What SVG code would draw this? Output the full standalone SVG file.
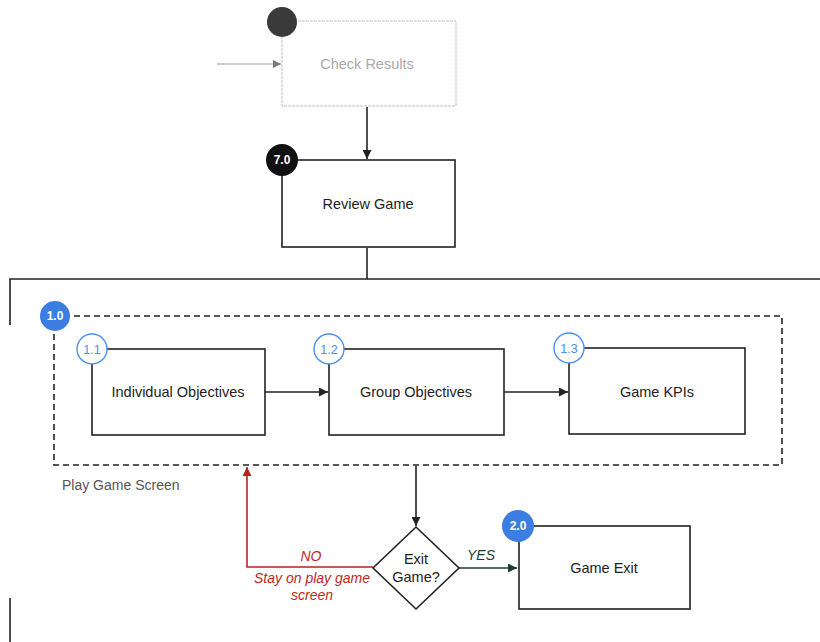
<svg xmlns="http://www.w3.org/2000/svg" width="820" height="642" viewBox="0 0 820 642">
  <style>
    .box { fill: #fff; stroke: #222; stroke-width: 1.6; }
    .lbl { font-family: "Liberation Sans", Arial, sans-serif; font-size: 14.5px; fill: #222; text-anchor: middle; }
    .badge-txt { font-family: "Liberation Sans", Arial, sans-serif; font-size: 12px; font-weight: bold; fill: #fff; text-anchor: middle; }
    .sub-txt { font-family: "Liberation Sans", Arial, sans-serif; font-size: 12.5px; fill: #4a8ef0; text-anchor: middle; }
    .wire { fill: none; stroke: #222; stroke-width: 1.6; }
    .note { font-family: "Liberation Sans", Arial, sans-serif; font-size: 14px; font-style: italic; text-anchor: middle; }
  </style>
  <defs>
    <marker id="arrow" viewBox="0 0 10 10" refX="10" refY="5" markerWidth="9" markerHeight="9" markerUnits="userSpaceOnUse" orient="auto">
      <path d="M0,0 L10,5 L0,10 z" fill="#222"/>
    </marker>
    <marker id="arrowGray" viewBox="0 0 10 10" refX="10" refY="5" markerWidth="8" markerHeight="8" markerUnits="userSpaceOnUse" orient="auto">
      <path d="M0,0 L10,5 L0,10 z" fill="#777"/>
    </marker>
    <marker id="arrowRed" viewBox="0 0 10 10" refX="10" refY="5" markerWidth="9" markerHeight="9" markerUnits="userSpaceOnUse" orient="auto">
      <path d="M0,0 L10,5 L0,10 z" fill="#b3261e"/>
    </marker>
    <marker id="arrowGreen" viewBox="0 0 10 10" refX="10" refY="5" markerWidth="9" markerHeight="9" markerUnits="userSpaceOnUse" orient="auto">
      <path d="M0,0 L10,5 L0,10 z" fill="#1f3d2b"/>
    </marker>
  </defs>

  <rect width="820" height="642" fill="#fff"/>

  <!-- connectors -->
  <g id="connectors">
    <line x1="217" y1="64" x2="281" y2="64" stroke="#999" stroke-width="1" marker-end="url(#arrowGray)"/>
    <line class="wire" x1="367" y1="107" x2="367" y2="159" marker-end="url(#arrow)"/>
    <polyline class="wire" points="367,248 367,279"/>
    <polyline class="wire" points="10,325 10,279 820,279"/>
    <line class="wire" x1="10" y1="598" x2="10" y2="642"/>
    <line class="wire" x1="265" y1="392" x2="328" y2="392" marker-end="url(#arrow)"/>
    <line class="wire" x1="504" y1="392" x2="568" y2="392" marker-end="url(#arrow)"/>
    <line class="wire" x1="416" y1="466" x2="416" y2="526" marker-end="url(#arrow)"/>
    <polyline points="373,567 247,567 247,467" fill="none" stroke="#b3261e" stroke-width="1.6" marker-end="url(#arrowRed)"/>
    <line x1="459" y1="568" x2="517" y2="568" stroke="#1f3d2b" stroke-width="1.6" marker-end="url(#arrowGreen)"/>
    <text class="note" x="311" y="561" fill="#c0281e">NO</text>
    <text class="note" x="312" y="583" fill="#c0281e">Stay on play game</text>
    <text class="note" x="312" y="600" fill="#c0281e">screen</text>
    <text class="note" x="481" y="560" fill="#1f3d2b">YES</text>
  </g>

  <!-- check results (faded) -->
  <g id="check-results">
    <rect x="282" y="21" width="174" height="85" fill="#fff" stroke="#bbb" stroke-width="1" stroke-dasharray="3,1"/>
    <text x="367" y="69" font-family="Liberation Sans, Arial, sans-serif" font-size="14.5" fill="#aaa" text-anchor="middle">Check Results</text>
    <circle cx="282" cy="22" r="15" fill="#3a3a3a"/>
  </g>

  <!-- review game -->
  <g id="review-game">
    <rect class="box" x="282" y="160" width="173" height="87"/>
    <text class="lbl" x="368" y="209">Review Game</text>
    <circle cx="282" cy="160" r="16" fill="#111"/>
    <text class="badge-txt" x="282" y="164">7.0</text>
  </g>

  <!-- play game screen container -->
  <g id="play-game-screen">
    <rect x="54" y="316" width="728" height="149" fill="none" stroke="#222" stroke-width="1.6" stroke-dasharray="6,4"/>
    <text x="62" y="490" font-family="Liberation Sans, Arial, sans-serif" font-size="14" fill="#555">Play Game Screen</text>
    <circle cx="55" cy="316" r="15" fill="#3b7de0"/>
    <text class="badge-txt" x="55" y="320">1.0</text>
  </g>

  <g id="individual-objectives">
    <rect class="box" x="92" y="349" width="173" height="86"/>
    <text class="lbl" x="178" y="397">Individual Objectives</text>
    <circle cx="92" cy="349" r="15" fill="#fff" stroke="#4a8ef0" stroke-width="1.4"/>
    <text class="sub-txt" x="92" y="353.5">1.1</text>
  </g>

  <g id="group-objectives">
    <rect class="box" x="329" y="349" width="175" height="86"/>
    <text class="lbl" x="416" y="397">Group Objectives</text>
    <circle cx="329" cy="349" r="15" fill="#fff" stroke="#4a8ef0" stroke-width="1.4"/>
    <text class="sub-txt" x="329" y="353.5">1.2</text>
  </g>

  <g id="game-kpis">
    <rect class="box" x="569" y="348" width="176" height="86"/>
    <text class="lbl" x="657" y="397">Game KPIs</text>
    <circle cx="569" cy="348" r="15" fill="#fff" stroke="#4a8ef0" stroke-width="1.4"/>
    <text class="sub-txt" x="569" y="352.5">1.3</text>
  </g>

  <!-- decision -->
  <g id="exit-game">
    <polygon class="box" points="416,527 459,568 416,609 373,568"/>
    <text class="lbl" x="416" y="564">Exit</text>
    <text class="lbl" x="416" y="582">Game?</text>
  </g>

  <g id="game-exit">
    <rect class="box" x="519" y="526" width="171" height="83"/>
    <text class="lbl" x="604" y="573">Game Exit</text>
    <circle cx="518" cy="526" r="16" fill="#3b7de0"/>
    <text class="badge-txt" x="518" y="530">2.0</text>
  </g>
</svg>
